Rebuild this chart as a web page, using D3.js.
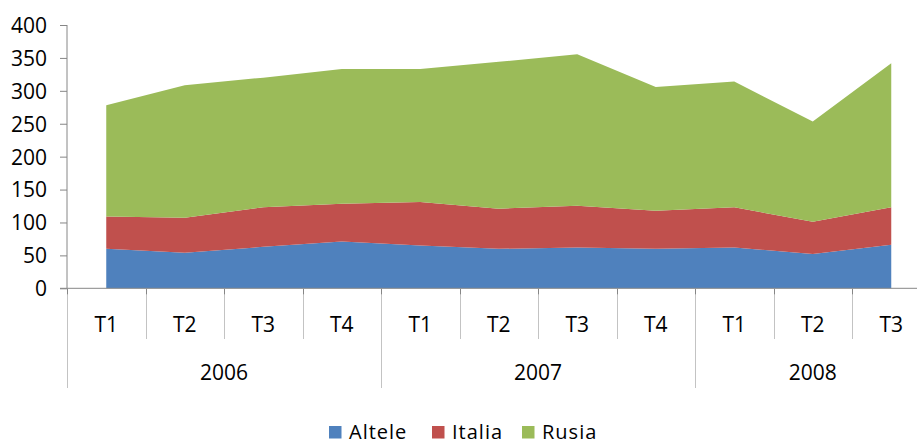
<!DOCTYPE html>
<html lang="ro">
<head>
<meta charset="UTF-8">
<title>Stacked area</title>
<script src="https://d3js.org/d3.v7.min.js"></script>
<style>
  body { margin: 0; background: #fff; }
  text { font-family: "Open Sans", sans-serif; fill: #000; }
</style>
</head>
<body>
<script>
// data
const quarters = ["T1", "T2", "T3", "T4", "T1", "T2", "T3", "T4", "T1", "T2", "T3"];
const years = [
  { label: "2006", from: 0, to: 4 },
  { label: "2007", from: 4, to: 8 },
  { label: "2008", from: 8, to: 11 }
];
const altele = [60, 54, 63, 71, 65, 60, 62, 60, 62, 52, 66];
const italia = [49, 53, 60, 57.5, 66, 61, 63.5, 58, 61, 49, 57];
const rusia = [169, 201.5, 197, 204.5, 202, 223, 230, 188, 191, 152.5, 219];
const seriesNames = ["Altele", "Italia", "Rusia"];
const colors = ["#4F81BD", "#C0504D", "#9BBB59"];
const yTicks = [0, 50, 100, 150, 200, 250, 300, 350, 400];

const W = 917, H = 446;
const left = 67, bandW = 78.5;
const fs = "21px";

const svg = d3.select("body").append("svg")
  .attr("width", W)
  .attr("height", H);

const rows = quarters.map((q, i) => ({ i, Altele: altele[i], Italia: italia[i], Rusia: rusia[i] }));
const stack = d3.stack().keys(seriesNames)(rows);

const x = d3.scaleBand()
  .domain(d3.range(12))
  .range([left, left + 12 * bandW]);
const y = d3.scaleLinear().domain([0, 400]).range([288.3, 25]);

const area = d3.area()
  .x(d => x(d.data.i) + bandW / 2)
  .y0(d => y(d[0]))
  .y1(d => y(d[1]));

svg.selectAll("path.layer")
  .data(stack)
  .enter().append("path")
  .attr("class", "layer")
  .attr("d", area)
  .attr("fill", (d, i) => colors[i]);

// y axis
const yAxis = svg.append("g")
  .attr("transform", `translate(${left},0)`)
  .call(d3.axisLeft(y).tickValues(yTicks).tickSize(7).tickPadding(13));
yAxis.select(".domain").attr("stroke", "#868686").attr("d", `M0,${y(400)}V${y(0)}`);
yAxis.selectAll(".tick line").attr("stroke", "#868686");
yAxis.selectAll(".tick text").style("font-size", fs).attr("dy", "0.35em");

// x axis line
svg.append("line")
  .attr("x1", left - 7).attr("x2", W)
  .attr("y1", y(0)).attr("y2", y(0))
  .attr("stroke", "#868686");

// quarter and year separators
const groupStarts = years.map(d => d.from);
d3.range(12).forEach(i => {
  const xx = Math.round(x(i)) + 0.5;
  const isYear = groupStarts.includes(i);
  svg.append("line")
    .attr("x1", xx).attr("x2", xx)
    .attr("y1", y(0)).attr("y2", isYear ? 388 : 339)
    .attr("stroke", "#c3c3c3");
  svg.append("line")
    .attr("x1", xx).attr("x2", xx)
    .attr("y1", y(0)).attr("y2", y(0) + 6)
    .attr("stroke", "#868686");
});

svg.selectAll("text.q")
  .data(quarters)
  .enter().append("text")
  .attr("class", "q")
  .attr("x", (d, i) => x(i) + bandW / 2)
  .attr("y", 331.5)
  .attr("text-anchor", "middle")
  .style("font-size", fs)
  .text(d => d);

svg.selectAll("text.yr")
  .data(years)
  .enter().append("text")
  .attr("class", "yr")
  .attr("x", d => (x(d.from) + x(d.to - 1) + bandW) / 2)
  .attr("y", 380)
  .attr("text-anchor", "middle")
  .style("font-size", fs)
  .text(d => d.label);

// legend (kept just inside the bottom edge)
const legendX = [329, 432, 522];
const legend = svg.selectAll("g.leg")
  .data(seriesNames)
  .enter().append("g")
  .attr("class", "leg")
  .attr("transform", (d, i) => `translate(${legendX[i]},426)`);
legend.append("rect")
  .attr("width", 12.5).attr("height", 12.5)
  .attr("fill", (d, i) => colors[i]);
legend.append("text")
  .attr("x", 20)
  .attr("y", 12.5)
  .style("font-size", "20px")
  .style("letter-spacing", "1px")
  .text(d => d);
</script>
</body>
</html>
